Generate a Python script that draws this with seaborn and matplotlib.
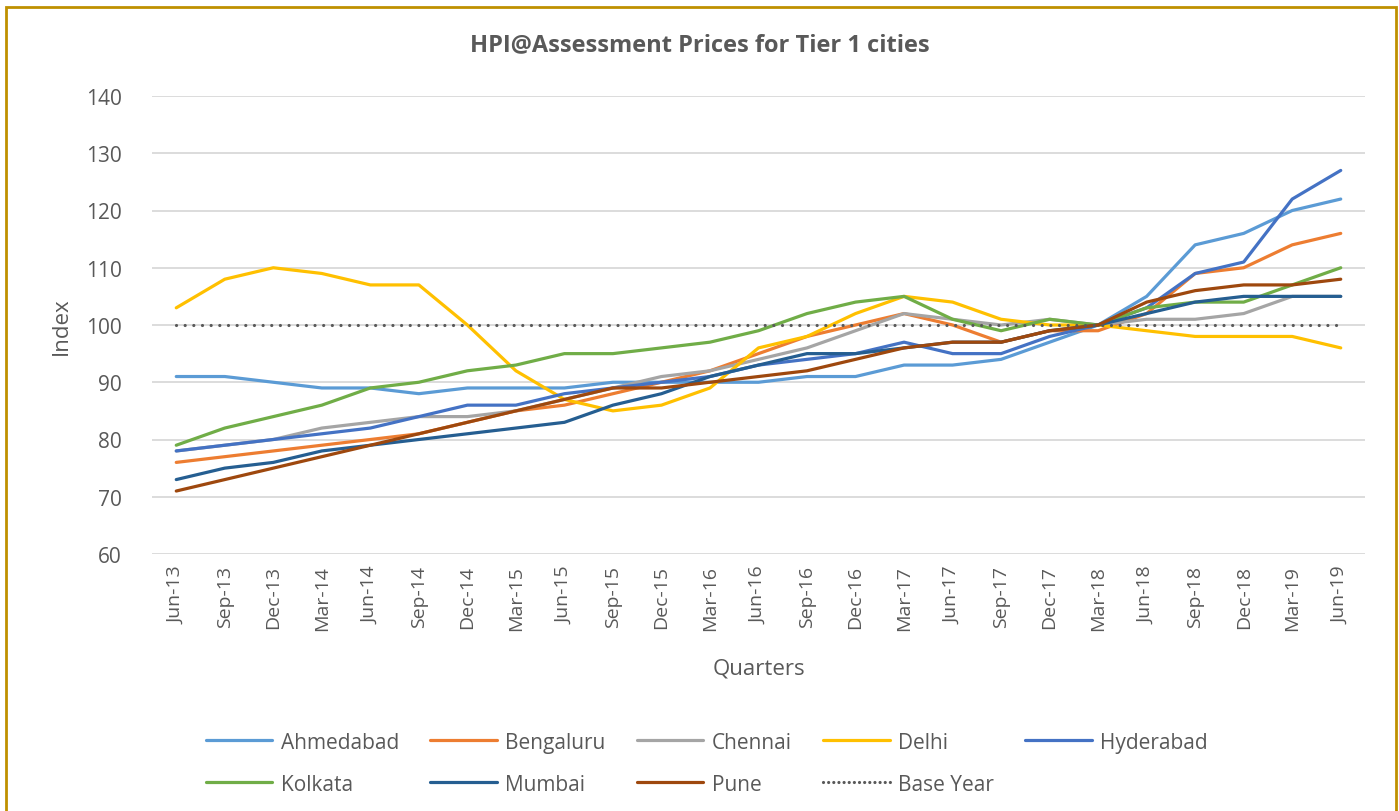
import seaborn as sns
import pandas as pd
import matplotlib.pyplot as plt
from matplotlib.patches import Rectangle
from matplotlib.lines import Line2D

quarters = ["Jun-13", "Sep-13", "Dec-13", "Mar-14", "Jun-14", "Sep-14", "Dec-14",
			"Mar-15", "Jun-15", "Sep-15", "Dec-15", "Mar-16", "Jun-16", "Sep-16",
			"Dec-16", "Mar-17", "Jun-17", "Sep-17", "Dec-17", "Mar-18", "Jun-18",
			"Sep-18", "Dec-18", "Mar-19", "Jun-19"]

ahmedabad = [91, 91, 90, 89, 89, 88, 89, 89, 89, 90, 90, 90, 90, 91, 91, 93, 93, 94, 97, 100, 105, 114, 116, 120, 122]
bengaluru = [76, 77, 78, 79, 80, 81, 83, 85, 86, 88, 90, 92, 95, 98, 100, 102, 100, 97, 99, 99, 102, 109, 110, 114, 116]
chennai = [78, 79, 80, 82, 83, 84, 84, 85, 87, 89, 91, 92, 94, 96, 99, 102, 101, 100, 101, 100, 101, 101, 102, 105, 105]
delhi = [103, 108, 110, 109, 107, 107, 100, 92, 87, 85, 86, 89, 96, 98, 102, 105, 104, 101, 100, 100, 99, 98, 98, 98, 96]
hyderabad = [78, 79, 80, 81, 82, 84, 86, 86, 88, 89, 90, 91, 93, 94, 95, 97, 95, 95, 98, 100, 103, 109, 111, 122, 127]
kolkata = [79, 82, 84, 86, 89, 90, 92, 93, 95, 95, 96, 97, 99, 102, 104, 105, 101, 99, 101, 100, 103, 104, 104, 107, 110]
mumbai = [73, 75, 76, 78, 79, 80, 81, 82, 83, 86, 88, 91, 93, 95, 95, 96, 97, 97, 99, 100, 102, 104, 105, 105, 105]
pune = [71, 73, 75, 77, 79, 81, 83, 85, 87, 89, 89, 90, 91, 92, 94, 96, 97, 97, 99, 100, 104, 106, 107, 107, 108]
base_year = [100] * len(quarters)

cities = {"Ahmedabad": ahmedabad, "Bengaluru": bengaluru, "Chennai": chennai,
		  "Delhi": delhi, "Hyderabad": hyderabad, "Kolkata": kolkata,
		  "Mumbai": mumbai, "Pune": pune}
colors = ["#5B9BD5", "#ED7D31", "#A5A5A5", "#FFC000", "#4472C4",
		  "#70AD47", "#255E91", "#9E480E"]

rows = []
for city, vals in cities.items():
	for q, v in zip(quarters, vals):
		rows.append((q, city, v))
df = pd.DataFrame(rows, columns=["Quarter", "City", "Index"])
base_df = pd.DataFrame({"Quarter": quarters, "Index": base_year})

sns.set_theme(style="white")
plt.rcParams["font.family"] = ["Open Sans", "DejaVu Sans"]
grey = "#595959"

fig = plt.figure(figsize=(13.99, 8.12), dpi=100)
W, H = 1399, 812
ax = fig.add_axes([152 / W, 1 - 555 / H, (1365 - 152) / W, (555 - 97) / H])

sns.lineplot(data=df, x="Quarter", y="Index", hue="City", palette=colors,
			 linewidth=2.3, ax=ax, legend=False, sort=False)
sns.lineplot(data=base_df, x="Quarter", y="Index", color=grey, linewidth=2.3,
			 ax=ax, legend=False, dashes=False)
base_line = ax.lines[-1]
base_line.set_linestyle((0, (0.01, 2.7)))
base_line.set_dash_capstyle("round")

ax.set_ylim(60, 140)
ax.set_xlim(-0.5, len(quarters) - 0.5)
ax.set_yticks(range(60, 141, 10))
ax.grid(axis="y", color="#D9D9D9", linewidth=1.3)
ax.set_axisbelow(True)
for s in ax.spines.values():
	s.set_visible(False)
ax.tick_params(axis="x", labelrotation=90, labelsize=14, colors=grey, pad=8, length=0)
ax.tick_params(axis="y", labelsize=15, colors=grey, pad=22, length=0)
ax.set_xlabel("Quarters", fontsize=16, color=grey, labelpad=20)
ax.set_ylabel("Index", fontsize=16, color=grey, labelpad=10)

fig.text(0.5, 1 - 45 / H, "HPI@Assessment Prices for Tier 1 cities",
		 ha="center", va="center", fontsize=17, fontweight="bold", color=grey)

handles = [Line2D([], [], color=c, linewidth=2.3) for c in colors]
handles.append(Line2D([], [], color=grey, linewidth=2.3,
					  linestyle=(0, (0.01, 1.6)), dash_capstyle="round"))
labels = list(cities.keys()) + ["Base Year"]
# legend fills columns first, reorder so it reads row by row
order = [0, 5, 1, 6, 2, 7, 3, 8, 4]
leg = fig.legend([handles[i] for i in order], [labels[i] for i in order],
				 ncol=5, loc="upper left",
				 bbox_to_anchor=(187 / W, 1 - 714 / H), frameon=False,
				 fontsize=15, handlelength=3.2, handletextpad=0.4,
				 columnspacing=1.5, labelspacing=1.0)
for t in leg.get_texts():
	t.set_color(grey)

fig.patches.append(Rectangle((6.5 / W, -0.05), (1396 - 6.5) / W, 1.05 - 8 / H,
							 transform=fig.transFigure, fill=False,
							 edgecolor="#BF9000", linewidth=2))

fig.savefig("out.png", dpi=100)
